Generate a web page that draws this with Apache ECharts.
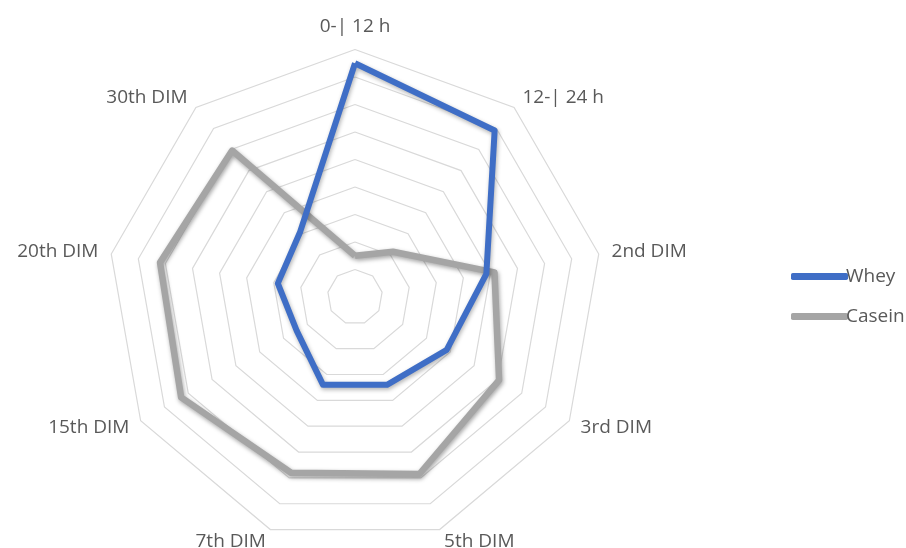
<!DOCTYPE html>
<html>
<head>
<meta charset="utf-8">
<script src="https://cdn.jsdelivr.net/npm/echarts@6/dist/echarts.min.js"></script>
<style>
  html, body { margin: 0; padding: 0; background: #fff; }
  #chart { width: 906px; height: 548px; }
</style>
</head>
<body>
<div id="chart"></div>
<script>
// axes, clockwise from the top
var categories = ['0-| 12 h', '12-| 24 h', '2nd DIM', '3rd DIM', '5th DIM', '7th DIM', '15th DIM', '20th DIM', '30th DIM'];
var whey = [8.5, 7.9, 4.85, 3.85, 3.4, 3.4, 2.45, 2.85, 3.1];
var casein = [1.5, 2.15, 5.15, 6.05, 6.85, 6.8, 7.3, 7.2, 6.95];
var axisMax = 9;

// echarts places indicators counter-clockwise, so keep the first and reverse the rest
function reorder(arr) {
	return [arr[0]].concat(arr.slice(1).reverse());
}

var indicators = reorder(categories).map(function (c) {
	return { name: c, min: 0, max: axisMax };
});

var myChart = echarts.init(document.getElementById('chart'));
var option = {
	animation: false,
	textStyle: { fontFamily: 'Open Sans' },
	legend: {
		orient: 'vertical',
		left: 786,
		top: 262,
		itemWidth: 57,
		itemHeight: 7,
		itemGap: 21,
		icon: 'roundRect',
		textStyle: { fontSize: 19, color: '#595959', padding: [0, 0, 0, -7] },
		data: ['Whey', 'Casein']
	},
	radar: {
		center: [355, 297],
		radius: 247.5,
		startAngle: 90,
		shape: 'polygon',
		splitNumber: 9,
		indicator: indicators,
		axisName: { color: '#595959', fontSize: 19, fontFamily: 'Open Sans' },
		nameGap: 13,
		axisLine: { show: false },
		axisTick: { show: false },
		axisLabel: { show: false },
		splitArea: { show: false },
		splitLine: { lineStyle: { color: '#d9d9d9', width: 1.2 } }
	},
	series: [
		{
			type: 'radar',
			symbol: 'none',
			z: 3,
			data: [
				{
					name: 'Casein',
					value: reorder(casein),
					itemStyle: { color: '#a5a5a5' },
					lineStyle: { color: '#a5a5a5', width: 6.5, shadowColor: 'rgba(0,0,0,0.35)', shadowBlur: 4, shadowOffsetX: 1, shadowOffsetY: 2 }
				}
			]
		},
		{
			type: 'radar',
			symbol: 'none',
			z: 4,
			data: [
				{
					name: 'Whey',
					value: reorder(whey),
					itemStyle: { color: '#3f6ec6' },
					lineStyle: { color: '#3f6ec6', width: 6, shadowColor: 'rgba(0,0,0,0.3)', shadowBlur: 4, shadowOffsetX: 1, shadowOffsetY: 2 }
				}
			]
		}
	]
};
myChart.setOption(option);
</script>
</body>
</html>
